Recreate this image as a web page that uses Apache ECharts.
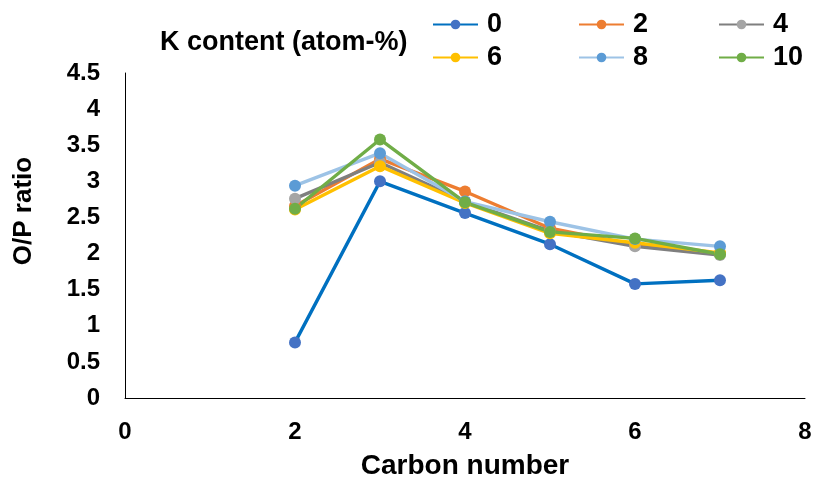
<!DOCTYPE html>
<html>
<head>
<meta charset="utf-8">
<script src="https://cdn.jsdelivr.net/npm/echarts@6/dist/echarts.min.js"></script>
<style>
  html, body { margin: 0; padding: 0; background: #fff; }
  #chart { width: 815px; height: 479px; }
</style>
</head>
<body>
<div id="chart"></div>
<script>
// Carbon numbers on the x axis
const carbonNumbers = [2, 3, 4, 5, 6, 7];

// O/P ratio for each K content (atom-%)
const k0  = [0.77, 3.00, 2.56, 2.13, 1.58, 1.63];
const k2  = [2.66, 3.31, 2.86, 2.35, 2.12, 2.00];
const k4  = [2.76, 3.26, 2.72, 2.31, 2.10, 1.98];
const k6  = [2.61, 3.21, 2.70, 2.28, 2.15, 2.01];
const k8  = [2.94, 3.39, 2.72, 2.44, 2.20, 2.10];
const k10 = [2.62, 3.58, 2.71, 2.30, 2.21, 1.99];

const seriesNames = ['0', '2', '4', '6', '8', '10'];
const seriesValues = [k0, k2, k4, k6, k8, k10];
const lineColors   = ['#0070C0', '#ED7D31', '#7F7F7F', '#FFC000', '#9DC3E6', '#70AD47'];
const markerColors = ['#4472C4', '#ED7D31', '#A5A5A5', '#FFC000', '#5B9BD5', '#70AD47'];

const yTicks = [0, 0.5, 1, 1.5, 2, 2.5, 3, 3.5, 4, 4.5];
const xTicks = [0, 2, 4, 6, 8];

const font = '"Liberation Sans", Arial, sans-serif';

const series = seriesNames.map((name, i) => ({
  name: name,
  type: 'line',
  data: carbonNumbers.map((c, j) => [c, seriesValues[i][j]]),
  symbol: 'circle',
  symbolSize: 12,
  lineStyle: { color: lineColors[i], width: 3.4 },
  itemStyle: { color: markerColors[i] },
  emphasis: { disabled: true },
  animation: false
}));

// one legend block per entry, laid out in a 3 x 2 grid
const legendPos = [
  [432, 11], [578, 11], [718, 11],
  [432, 44], [578, 44], [718, 44]
];
const legends = seriesNames.map((name, i) => ({
  data: [name],
  left: legendPos[i][0],
  top: legendPos[i][1],
  padding: 0,
  itemWidth: 45,
  itemHeight: 12,
  itemGap: 0,
  textStyle: { fontFamily: font, fontWeight: 'bold', fontSize: 27, color: '#000', padding: [0, 0, 0, 4] },
  selectedMode: false
}));

const chart = echarts.init(document.getElementById('chart'), null, { renderer: 'canvas' });
chart.setOption({
  backgroundColor: '#fff',
  animation: false,
  title: {
    text: 'K content (atom-%)',
    left: 160,
    top: 29,
    padding: 0,
    textStyle: { fontFamily: font, fontWeight: 'bold', fontSize: 27, color: '#000' }
  },
  legend: legends,
  graphic: [{
    type: 'text',
    x: 24,
    y: 211,
    rotation: Math.PI / 2,
    style: {
      text: 'O/P ratio',
      fontFamily: font,
      fontWeight: 'bold',
      fontSize: 26,
      fill: '#000',
      align: 'center',
      verticalAlign: 'middle'
    }
  }],
  grid: { left: 125, right: 10, top: 73, bottom: 81, containLabel: false, outerBoundsMode: 'none' },
  xAxis: {
    type: 'value',
    min: xTicks[0],
    max: xTicks[xTicks.length - 1],
    interval: 2,
    name: 'Carbon number',
    nameLocation: 'middle',
    nameGap: 54,
    nameTextStyle: { fontFamily: font, fontWeight: 'bold', fontSize: 28, color: '#000' },
    axisLine: { show: true, lineStyle: { color: '#000', width: 1 } },
    axisTick: { show: false },
    splitLine: { show: false },
    axisLabel: { fontFamily: font, fontWeight: 'bold', fontSize: 24, color: '#000', margin: 22 }
  },
  yAxis: {
    type: 'value',
    min: yTicks[0],
    max: yTicks[yTicks.length - 1],
    interval: 0.5,
    axisLine: { show: true, lineStyle: { color: '#000', width: 1 } },
    axisTick: { show: false },
    splitLine: { show: false },
    axisLabel: { fontFamily: font, fontWeight: 'bold', fontSize: 24, color: '#000', margin: 25 }
  },
  series: series
});
</script>
</body>
</html>
